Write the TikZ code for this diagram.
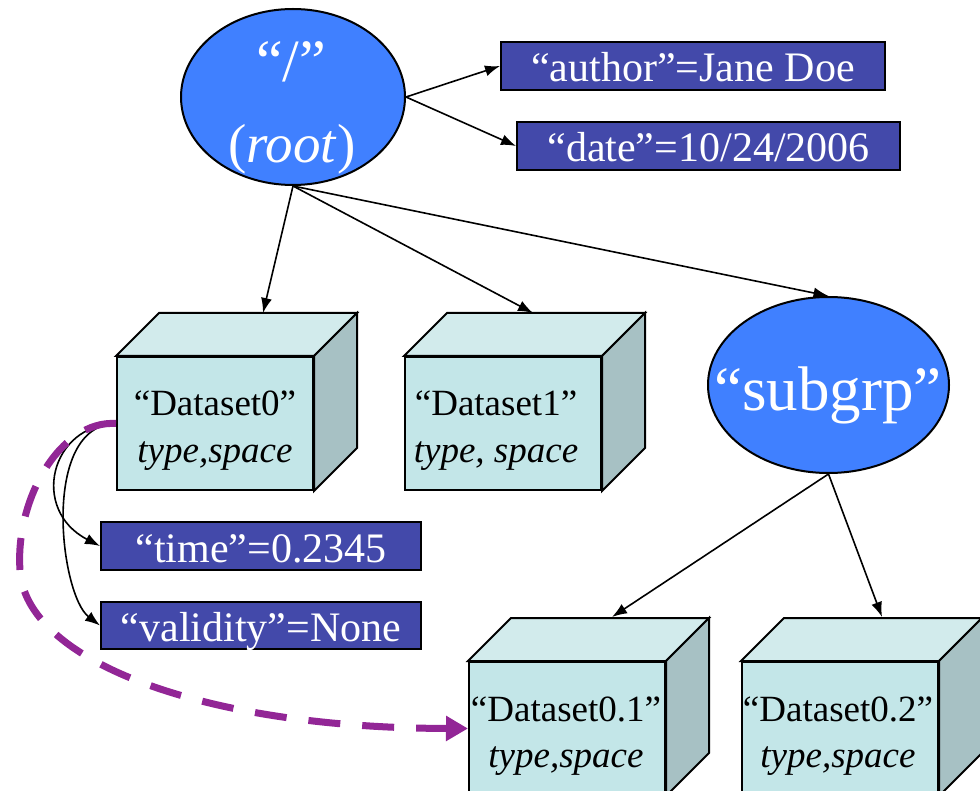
\documentclass[tikz,border=0pt]{standalone}
\usepackage{fontspec}
\setmainfont{Liberation Serif}[ItalicFont={Liberation Serif Italic},BoldFont={Liberation Serif Bold}]
\usetikzlibrary{shapes.geometric,arrows.meta,calc}
\definecolor{ellblue}{RGB}{64,128,255}
\definecolor{attrblue}{RGB}{67,73,170}
\definecolor{cubefront}{RGB}{195,230,232}
\definecolor{cubetop}{RGB}{210,235,236}
\definecolor{cubeside}{RGB}{167,193,196}
\definecolor{dpurple}{RGB}{146,38,150}
\newcommand\cubefaces[1]{%
  \draw[facestyle,fill=cubetop] (#1.north west) -- ++(43,-43) -- ($(#1.north east)+(43,-43)$) -- (#1.north east) -- cycle;
  \draw[facestyle,fill=cubeside] (#1.north east) -- ++(43,-43) -- ($(#1.south east)+(43,-43)$) -- (#1.south east) -- cycle;}
\begin{document}
\begin{tikzpicture}[x=1pt,y=-1pt,
  facestyle/.style={draw,line width=2pt,line join=miter},
  grp/.style={ellipse,draw,fill=ellblue,line width=2pt,inner sep=0pt},
  grptext/.style={anchor=base,text=white,inner sep=0pt},
  attr/.style={draw,fill=attrblue,text=white,line width=2pt,inner sep=0pt,
    font=\fontsize{42}{48}\selectfont,text height=34pt,text depth=2pt,minimum height=48pt},
  cubebox/.style={draw,fill=cubefront,line width=2pt,minimum width=196pt,minimum height=133pt,inner sep=0pt},
  cubetext/.style={font=\fontsize{37}{46}\selectfont,anchor=base,inner sep=0pt},
  arr/.style={-{Latex[length=15pt,width=11pt]},line width=1.6pt},
  dashlink/.style={dpurple,line width=7pt,dash pattern=on 32pt off 22pt,-{Triangle[length=22pt,width=24pt]}}]
\useasboundingbox (0,0) rectangle (980,791);
\clip (0,0) rectangle (980,791);

% root group
\node[grp,minimum width=224pt,minimum height=176pt] (root) at (293,97) {};
\node[grptext,font=\fontsize{60}{66}\selectfont] (rootq) at (291,82) {“/”};
\node[grptext,font=\fontsize{55}{60}\selectfont] (rootl) at (292,163) {(\textit{root})};

% root attributes
\node[attr,minimum width=384pt] (author) at (693,66) {“author”=Jane Doe};
\node[attr,minimum width=383pt] (date) at (708.5,146) {“date”=10/24/2006};

% datasets
\node[cubebox] (d0) at (215,423.5) {};
\cubefaces{d0}
\node[cubetext] (d0a) at ($(d0.north)+(0,60)$) {“Dataset0”};
\node[cubetext] (d0b) at ($(d0.north)+(0,106)$) {\textit{type,space}};

\node[cubebox] (d1) at (503,423.5) {};
\cubefaces{d1}
\node[cubetext] (d1a) at ($(d1.north)+(-7,60)$) {“Dataset1”};
\node[cubetext] (d1b) at ($(d1.north)+(-7,106)$) {\textit{type, space}};

\node[cubebox] (d01) at (567,728.5) {};
\cubefaces{d01}
\node[cubetext] (d01a) at ($(d01.north)+(-1,60)$) {“Dataset0.1”};
\node[cubetext] (d01b) at ($(d01.north)+(-1,106)$) {\textit{type,space}};

\node[cubebox] (d02) at (840,728.5) {};
\cubefaces{d02}
\node[cubetext] (d02a) at ($(d02.north)+(-2,60)$) {“Dataset0.2”};
\node[cubetext] (d02b) at ($(d02.north)+(-2,106)$) {\textit{type,space}};

% subgroup
\node[grp,minimum width=241pt,minimum height=176pt] (subgrp) at (828.5,385) {};
\node[grptext,font=\fontsize{63}{70}\selectfont] (subgrpt) at (828,410) {“subgrp”};

% dataset attributes
\node[attr,minimum width=320pt] (time) at (261,546) {“time”=0.2345};
\node[attr,minimum width=320pt,minimum height=47pt] (valid) at (261,625.5) {“validity”=None};

% arrow targets on cube tops
\coordinate (d0top) at ($(d0.north)+(48,-43)$);
\coordinate (d1top) at ($(d1.north)+(30,-43)$);
\coordinate (d01top) at ($(d01.north)+(45,-44)$);
\coordinate (d02top) at ($(d02.north)+(42,-44)$);

% connectors
\draw[arr] (root.east) -- (author.west);
\draw[arr] (root.east) -- (date.west);
\draw[arr] (root.south) -- (d0top);
\draw[arr] (root.south) -- (d1top);
\draw[arr] (root.south) -- (subgrp.north);
\draw[arr] (subgrp.south) -- (d01top);
\draw[arr] (subgrp.south) -- (d02top);
\draw[arr] (d0.west) .. controls (50,425) and (30,510) .. (time.west);
\draw[arr] (d0.west) .. controls (40,425) and (60,595) .. (valid.west);

% dashed link
\draw[dashlink] (d0.west) .. controls (60,420) and (15,500) .. (20,570)
  .. controls (25,660) and (200,728) .. (d01.west);
\end{tikzpicture}
\end{document}
